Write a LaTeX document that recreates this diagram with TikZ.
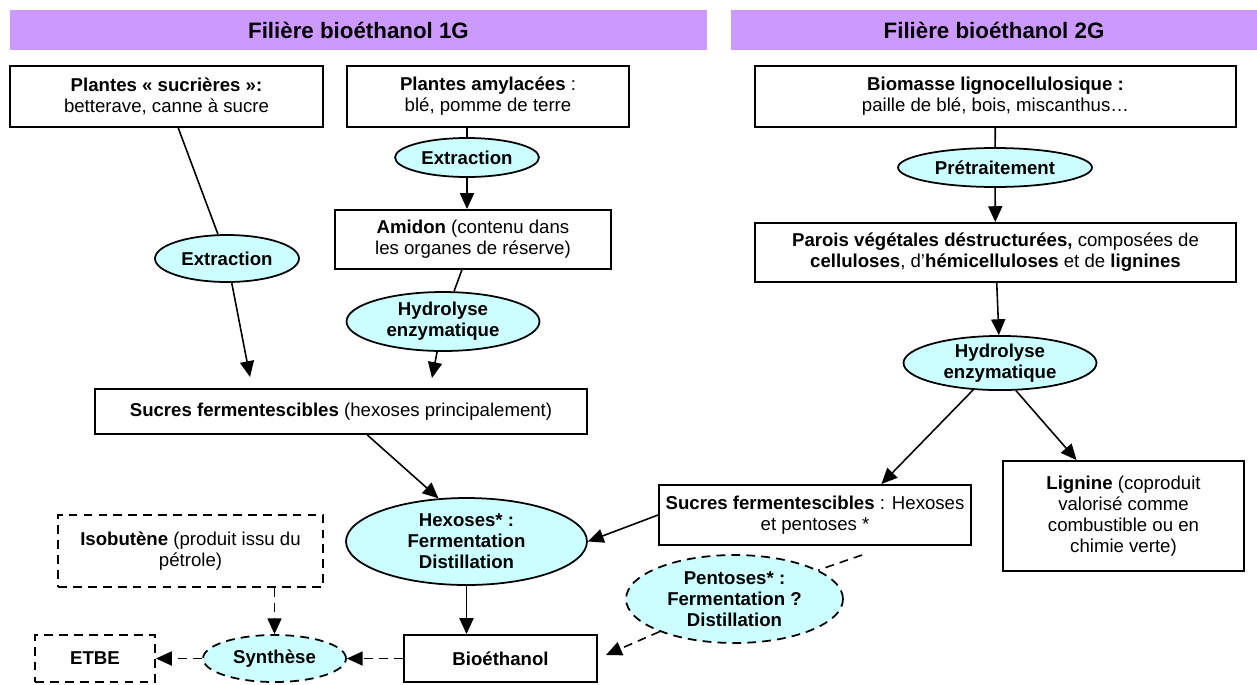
\documentclass[tikz,border=0pt]{standalone}
\usepackage{fontspec}
\setmainfont{Liberation Sans}
\usepackage{tikz}
\usetikzlibrary{shapes.geometric, arrows.meta}
\definecolor{headfill}{HTML}{CC99FF}
\definecolor{procfill}{HTML}{CCFFFF}

\begin{document}
\begin{tikzpicture}[x=0.02cm, y=-0.02cm, every node/.style={font=\fontsize{10.6pt}{11.9pt}\selectfont}]
\tikzstyle{head}=[fill=headfill, minimum height=0.8cm, font=\fontsize{12.7pt}{14pt}\selectfont\bfseries]
\tikzstyle{box}=[draw, rectangle, line width=1.1pt, align=center, inner sep=2pt]
\tikzstyle{dbox}=[box, dash pattern=on 5pt off 3.5pt]
\tikzstyle{proc}=[draw, ellipse, line width=1pt, fill=procfill, align=center, inner sep=0pt, font=\fontsize{10.6pt}{11.9pt}\selectfont\bfseries]
\tikzstyle{dproc}=[proc, dash pattern=on 5pt off 3.5pt]
\tikzstyle{flow}=[line width=0.9pt, -{Triangle[length=9pt,width=8pt]}]
\tikzstyle{dflow}=[flow, dash pattern=on 5pt off 3.5pt]

\useasboundingbox (0,0) rectangle (1257,684);

\node (head1) [head, minimum width=13.94cm] at (358.5,30) {Filière bioéthanol 1G};
\node (head2) [head, minimum width=10.52cm] at (994,30) {Filière bioéthanol 2G};

\node (sucr) [box, minimum width=6.26cm, minimum height=1.22cm] at (166.5,96.5) {\textbf{Plantes « sucrières »:}\\betterave, canne à sucre};
\node (amyl) [box, minimum width=5.64cm, minimum height=1.22cm] at (488,96.5) {\textbf{Plantes amylacées} :\\blé, pomme de terre};
\node (biom) [box, minimum width=9.62cm, minimum height=1.22cm] at (995.5,96.5) {\textbf{Biomasse lignocellulosique :}\\paille de blé, bois, miscanthus…};

\node (extr1) [proc, minimum width=2.88cm, minimum height=0.94cm] at (227,258.5) {Extraction};
\node (extr2) [proc, minimum width=2.88cm, minimum height=0.78cm] at (467,157.5) {Extraction};
\node (pretr) [proc, minimum width=3.88cm, minimum height=0.78cm] at (995,167.5) {Prétraitement};

\node (amid) [box, minimum width=5.52cm, minimum height=1.18cm] at (473,239.5) {\textbf{Amidon} (contenu dans\\les organes de réserve)};
\node (parois) [box, minimum width=9.62cm, minimum height=1.18cm] at (995.5,252.5) {\textbf{Parois végétales déstructurées,} composées de\\\textbf{celluloses}, d’\textbf{hémicelluloses} et de \textbf{lignines}};

\node (hydr1) [proc, minimum width=3.86cm, minimum height=1.18cm] at (443,321.5) {Hydrolyse\\enzymatique};
\node (hydr2) [proc, minimum width=3.86cm, minimum height=1.06cm] at (1000,363) {Hydrolyse\\enzymatique};

\node (sucres1) [box, minimum width=9.84cm, minimum height=0.9cm] at (341,411.5) {\textbf{Sucres fermentescibles} (hexoses principalement)};
\node (sucres2) [box, minimum width=6.24cm, minimum height=1.2cm] at (815,515) {\textbf{Sucres fermentescibles} : Hexoses\\et pentoses *};
\node (lign) [box, minimum width=4.82cm, minimum height=2.2cm] at (1123.5,516) {\textbf{Lignine} (coproduit\\valorisé comme\\combustible ou en\\chimie verte)};

\node (hexo) [proc, minimum width=4.82cm, minimum height=1.74cm] at (466.5,541.5) {Hexoses* :\\Fermentation\\Distillation};
\node (pento) [dproc, minimum width=4.34cm, minimum height=1.76cm] at (734.5,599) {Pentoses* :\\Fermentation ?\\Distillation};

\node (isob) [dbox, minimum width=5.3cm, minimum height=1.44cm] at (190.5,551) {\textbf{Isobutène} (produit issu du\\pétrole)};
\node (bioe) [box, minimum width=3.86cm, minimum height=0.94cm] at (500.5,658.5) {\textbf{Bioéthanol}};
\node (synth) [dproc, minimum width=2.86cm, minimum height=0.94cm] at (274.5,658.5) {Synthèse};
\node (etbe) [dbox, minimum width=2.4cm, minimum height=0.94cm] at (95,658.5) {\textbf{ETBE}};

\coordinate (t1) at (250,377);
\coordinate (t2) at (432,378);
\coordinate (pstart) at (862,555);

\draw [line width=0.9pt] (sucr) -- (extr1);
\draw [flow] (extr1) -- (t1);
\draw [line width=0.9pt] (extr2 |- amyl.south) -- (extr2);
\draw [flow] (extr2) -- (extr2 |- amid.north);
\draw [line width=0.9pt] (amid) -- (hydr1);
\draw [flow] (hydr1) -- (t2);
\draw [flow] (sucres1) -- (hexo.123);

\draw [line width=0.9pt] (biom) -- (pretr);
\draw [flow] (pretr) -- (parois);
\draw [flow] (parois) -- (hydr2);
\draw [flow] (hydr2.225) -- (sucres2.25);
\draw [flow] (hydr2.300) -- (lign.130);
\draw [flow] (sucres2.west) -- (hexo.east);
\draw [flow] (hexo.south) -- (hexo.south |- bioe.north);

\draw [line width=0.9pt, dash pattern=on 5pt off 3.5pt] (pstart) -- (pento);
\draw [dflow, shorten >=5pt] (pento) -- (bioe.east);
\draw [dflow] (synth.north |- isob.south) -- (synth.north);
\draw [dflow] (bioe.west) -- (synth.east);
\draw [dflow] (synth.west) -- (etbe.east);
\end{tikzpicture}
\end{document}
